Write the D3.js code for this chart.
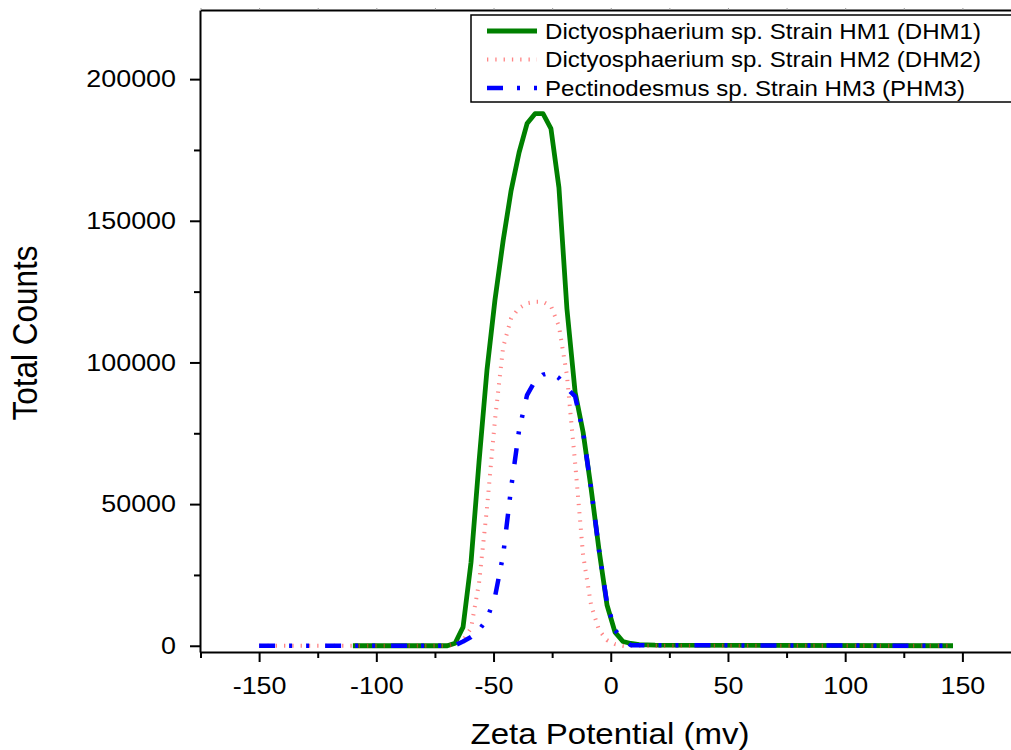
<!DOCTYPE html>
<html>
<head>
<meta charset="utf-8">
<script src="https://cdn.jsdelivr.net/npm/d3@7"></script>
<style>
  body { margin: 0; background: #fff; }
  text { font-family: "Liberation Sans", Arial, sans-serif; fill: #000; }
</style>
</head>
<body>
<div id="chart"></div>
<script>
// zeta potential (mV) and total counts
var zetaDHM1 = [-110, -69.7, -66.4, -63.0, -59.6, -56.2, -52.8, -49.4, -45.9, -42.5, -39.1, -35.7, -32.3, -28.9,
                -25.5, -22.1, -18.7, -15.2, -11.8, -8.4, -5.0, -1.6, 1.8, 5.2, 8.6, 12.1, 18.9, 146];
var countsDHM1 = [0, 0, 900, 6600, 29500, 64800, 97300, 122000, 143000, 160700, 174100, 184300, 187800, 187800,
                  182500, 161700, 119000, 89500, 75400, 55600, 33800, 14400, 4800, 1500, 800, 400, 200, 0];

var zetaDHM2 = [-150, -69.7, -66.4, -63.0, -59.6, -56.2, -52.8, -49.4, -45.9, -42.5, -39.1, -35.7, -32.3, -28.9,
                -25.5, -22.1, -18.7, -15.2, -11.8, -8.4, -5.0, -1.6, 1.8, 5.2, 145];
var countsDHM2 = [0, 0, 600, 2000, 6200, 22100, 48600, 79600, 105400, 115600, 119200, 120900, 121400, 121400,
                  119900, 112800, 95500, 64500, 32000, 14400, 5500, 2000, 600, 0, 0];

var zetaPHM3 = [-150, -69.7, -66.4, -63.0, -59.6, -56.2, -52.8, -49.4, -45.9, -42.5, -39.1, -35.7, -32.3, -28.9,
                -25.5, -22.1, -18.7, -15.2, -11.8, -8.4, -5.0, -1.6, 1.8, 5.2, 8.6, 145];
var countsPHM3 = [0, 0, 200, 1500, 3100, 5500, 9400, 17200, 32000, 55700, 76100, 88500, 93500, 95700,
                  96400, 94500, 90900, 88000, 75400, 55600, 33800, 15000, 5500, 2400, 200, 0];

var seriesNames = ["Dictyosphaerium sp. Strain HM1 (DHM1)",
                   "Dictyosphaerium sp. Strain HM2 (DHM2)",
                   "Pectinodesmus sp. Strain HM3 (PHM3)"];

var xMajorTicks = [-150, -100, -50, 0, 50, 100, 150];
var xMinorTicks = [-175, -125, -75, -25, 25, 75, 125, 175];
var yMajorTicks = [0, 50000, 100000, 150000, 200000];
var yMinorTicks = [25000, 75000, 125000, 175000];

function init() {
    var w = 1011, h = 750;
    var stretch = 1.12;   // the picture's text is a bit wider than tall

    var svg = d3.select("#chart").append("svg")
        .attr("width", w)
        .attr("height", h);

    var x = d3.scaleLinear().domain([-175, 175]).range([200.5, 1021]);
    var y = d3.scaleLinear().domain([-2200, 224400]).range([652, 10]);

    // top frame line with its small ticks
    var topAxis = svg.append("g")
        .attr("transform", "translate(0,10)")
        .call(d3.axisTop(x).tickValues(xMajorTicks.concat(xMinorTicks)).tickSize(2).tickSizeOuter(0).tickFormat(""));

    // bottom axis
    var xAxis = svg.append("g")
        .attr("transform", "translate(0,652)")
        .call(d3.axisBottom(x).tickValues(xMajorTicks).tickSize(10).tickSizeOuter(0).tickPadding(15)
              .tickFormat(function(d) { return String(d); }));
    svg.append("g")
        .attr("transform", "translate(0,652)")
        .call(d3.axisBottom(x).tickValues(xMinorTicks).tickSize(6).tickSizeOuter(0).tickFormat(""))
        .select(".domain").remove();

    // left axis
    var yAxis = svg.append("g")
        .attr("transform", "translate(200,0)")
        .call(d3.axisLeft(y).tickValues(yMajorTicks).tickSize(10).tickSizeOuter(0).tickPadding(15)
              .tickFormat(function(d) { return String(d); }));
    svg.append("g")
        .attr("transform", "translate(200,0)")
        .call(d3.axisLeft(y).tickValues(yMinorTicks).tickSize(6).tickSizeOuter(0).tickFormat(""))
        .select(".domain").remove();

    svg.selectAll(".domain").attr("stroke", "#000").attr("stroke-width", 2);
    svg.selectAll(".tick line").attr("stroke-width", 2);
    topAxis.selectAll(".tick line").attr("stroke", "#999").attr("stroke-width", 1);

    xAxis.selectAll("text")
        .attr("font-size", 24)
        .attr("font-family", "Liberation Sans, Arial, sans-serif")
        .attr("transform", "scale(" + stretch + ",1)");
    yAxis.selectAll("text")
        .attr("font-size", 24)
        .attr("font-family", "Liberation Sans, Arial, sans-serif")
        .attr("x", 0)
        .attr("transform", "translate(-24,0) scale(" + stretch + ",1)");

    // axis titles
    svg.append("text")
        .attr("transform", "translate(610,744) scale(" + stretch + ",1)")
        .attr("text-anchor", "middle")
        .attr("font-size", 29.5)
        .text("Zeta Potential (mv)");
    svg.append("text")
        .attr("transform", "translate(37,333) scale(" + stretch + ",1) rotate(-90)")
        .attr("text-anchor", "middle")
        .attr("font-size", 31.5)
        .text("Total Counts");

    // curves
    var line = d3.line()
        .x(function(d) { return x(d[0]); })
        .y(function(d) { return y(d[1]); });

    var styles = [
        { stroke: "#008000", width: 4.8, dash: null, opacity: 1 },
        { stroke: "#ff3333", width: 4, dash: "1.3,7", opacity: 0.6 },
        { stroke: "#0000ff", width: 4.5, dash: "16,14,3,14,3,16", opacity: 1 }
    ];
    var series = [
        d3.zip(zetaDHM1, countsDHM1),
        d3.zip(zetaDHM2, countsDHM2),
        d3.zip(zetaPHM3, countsPHM3)
    ];

    svg.selectAll("path.curve")
        .data(series)
        .enter()
        .append("path")
        .attr("class", "curve")
        .attr("d", line)
        .attr("fill", "none")
        .attr("stroke", function(d, i) { return styles[i].stroke; })
        .attr("stroke-width", function(d, i) { return styles[i].width; })
        .attr("stroke-dasharray", function(d, i) { return styles[i].dash; })
        .attr("stroke-opacity", function(d, i) { return styles[i].opacity; })
        .attr("stroke-linejoin", "round");

    // legend
    var legend = svg.append("g");
    legend.append("rect")
        .attr("x", 471).attr("y", 15)
        .attr("width", 560).attr("height", 87)
        .attr("fill", "#fff")
        .attr("stroke", "#000")
        .attr("stroke-width", 1.5);

    seriesNames.forEach(function(name, i) {
        var ly = 31 + i * 28.5;
        legend.append("line")
            .attr("x1", 487).attr("x2", 537)
            .attr("y1", ly).attr("y2", ly)
            .attr("stroke", styles[i].stroke)
            .attr("stroke-width", styles[i].width)
            .attr("stroke-dasharray", styles[i].dash)
            .attr("stroke-opacity", styles[i].opacity);
        legend.append("text")
            .attr("transform", "translate(545," + (ly + 7.5) + ") scale(" + stretch + ",1)")
            .attr("font-size", 21.5)
            .text(name);
    });
}

window.onload = init;
</script>
</body>
</html>
